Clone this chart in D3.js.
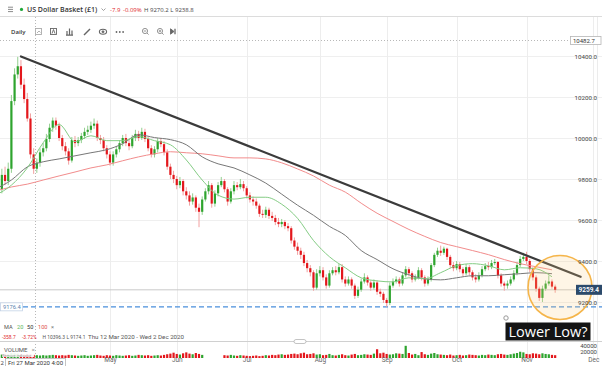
<!DOCTYPE html>
<html>
<head>
<meta charset="utf-8">
<script src="https://cdnjs.cloudflare.com/ajax/libs/d3/7.8.5/d3.min.js"></script>
<style>
body { margin: 0; background: #fff; }
svg { display: block; font-family: "Open Sans", Roboto, sans-serif; }
</style>
</head>
<body>
<div id="chart"></div>
<script>
// chart size
var width = 602, height = 366;

// daily candles, 12 Mar 2020 onwards (one value per session)
var opens = [9560,9630,9750,9820,9790,9850,10180,10310,10350,10260,
10190,10095,9920,9850,9880,9930,9950,9995,10050,10085,
10060,10000,9960,9935,9890,9990,9975,9990,10010,10030,
10040,10060,10070,10000,9990,9950,9920,9880,9920,9945,
9975,10000,9975,9960,10000,10020,10000,10030,9995,9950,
9920,9945,9985,9970,9930,9860,9820,9800,9770,9790,
9740,9720,9690,9710,9660,9640,9700,9740,9770,9680,
9730,9770,9790,9750,9690,9740,9770,9760,9775,9755,
9720,9700,9690,9670,9630,9625,9650,9620,9610,9590,
9580,9590,9570,9560,9500,9470,9450,9430,9390,9365,
9345,9270,9340,9355,9320,9280,9340,9355,9345,9370,
9310,9290,9310,9280,9230,9260,9300,9320,9295,9270,
9295,9250,9240,9210,9195,9280,9300,9310,9290,9330,
9360,9340,9310,9320,9355,9320,9290,9310,9380,9430,
9450,9440,9460,9420,9380,9365,9385,9360,9340,9370,
9345,9320,9310,9330,9360,9375,9370,9390,9395,9330,
9290,9280,9290,9310,9340,9380,9410,9420,9400,9360,
9320,9265,9220,9265,9290,9300,9275];

var highs = [9660,9780,9850,9860,9880,10210,10340,10396,10380,10290,
10220,10120,9950,9900,9950,9975,10020,10070,10100,10100,
10075,10015,9980,9950,10005,10010,10005,10025,10050,10060,
10080,10095,10085,10015,10005,9965,9935,9935,9960,9990,
10015,10020,9990,10015,10040,10035,10050,10045,10005,9965,
9960,10000,10000,9985,9945,9875,9840,9815,9810,9800,
9760,9740,9730,9720,9680,9715,9755,9790,9780,9745,
9785,9810,9800,9760,9755,9790,9785,9800,9790,9765,
9735,9715,9705,9680,9650,9665,9660,9640,9625,9610,
9605,9600,9585,9570,9515,9490,9465,9445,9405,9380,
9355,9360,9375,9370,9335,9355,9370,9375,9385,9385,
9325,9325,9320,9290,9275,9315,9340,9330,9305,9310,
9305,9265,9250,9220,9295,9315,9325,9320,9345,9375,
9370,9350,9335,9370,9365,9330,9325,9390,9440,9465,
9475,9470,9465,9430,9395,9400,9395,9370,9385,9380,
9355,9335,9345,9375,9390,9395,9405,9410,9400,9340,
9300,9305,9325,9355,9395,9425,9440,9445,9410,9370,
9330,9275,9280,9305,9330,9310,9285];

var lows = [9540,9615,9730,9770,9770,9830,10160,10290,10240,10170,
10080,9900,9825,9830,9860,9910,9935,9980,10030,10040,
9985,9940,9915,9870,9880,9955,9960,9975,9995,10015,
10025,10045,9985,9970,9935,9900,9865,9865,9905,9930,
9960,9960,9940,9950,9985,9985,9990,9980,9935,9905,
9905,9930,9955,9915,9845,9800,9780,9750,9755,9720,
9700,9670,9675,9640,9565,9625,9690,9725,9660,9665,
9715,9760,9735,9670,9680,9725,9745,9750,9740,9705,
9685,9670,9655,9615,9610,9610,9605,9595,9575,9565,
9565,9555,9545,9485,9455,9430,9410,9375,9345,9325,
9255,9260,9325,9305,9265,9270,9330,9330,9335,9295,
9275,9280,9265,9215,9220,9250,9290,9280,9255,9260,
9235,9225,9195,9176.4,9185,9270,9290,9275,9280,9320,
9325,9295,9300,9310,9305,9275,9280,9300,9370,9420,
9425,9430,9405,9365,9350,9355,9345,9325,9330,9330,
9305,9295,9300,9320,9350,9355,9360,9380,9315,9275,
9255,9265,9280,9300,9330,9370,9400,9385,9345,9305,
9250,9205,9200,9255,9280,9265,9245];

var closes = [9630,9750,9820,9790,9850,10180,10310,10350,10260,10190,
10095,9920,9850,9880,9930,9950,9995,10050,10085,10060,
10000,9960,9935,9890,9990,9975,9990,10010,10030,10040,
10060,10070,10000,9990,9950,9920,9880,9920,9945,9975,
10000,9975,9960,10000,10020,10000,10030,9995,9950,9920,
9945,9985,9970,9930,9860,9820,9800,9770,9790,9740,
9720,9690,9710,9660,9640,9700,9740,9770,9680,9730,
9770,9790,9750,9690,9740,9770,9760,9775,9755,9720,
9700,9690,9670,9630,9625,9650,9620,9610,9590,9580,
9590,9570,9560,9500,9470,9450,9430,9390,9365,9345,
9270,9340,9355,9320,9280,9340,9355,9345,9370,9310,
9290,9310,9280,9230,9260,9300,9320,9295,9270,9295,
9250,9240,9210,9195,9280,9300,9310,9290,9330,9360,
9340,9310,9320,9355,9320,9290,9310,9380,9430,9450,
9440,9460,9420,9380,9365,9385,9360,9340,9370,9345,
9320,9310,9330,9360,9375,9370,9390,9395,9330,9290,
9280,9290,9310,9340,9380,9410,9420,9400,9360,9320,
9265,9220,9265,9290,9300,9275,9259.4];

var volumes = [9000,12000,11000,13000,12000,16000,15000,14000,12000,11000,13000,
12000,10000,9000,8000,9000,8000,9000,10000,9000,8000,
9000,8000,10000,9000,8000,7000,8000,9000,7000,8000,
9000,10000,8000,7000,9000,8000,7000,9000,8000,7000,
8000,9000,7000,8000,10000,9000,8000,9000,7000,8000,
9000,8000,10000,12000,14000,17000,13000,11000,15000,18000,
14000,12000,16000,13000,10000,
0,0,0,0,0,0,
9000,8000,10000,8000,7000,9000,8000,7000,6000,
7000,8000,6000,7000,9000,8000,10000,9000,11000,12000,
10000,11000,13000,14000,12000,15000,17000,12000,13000,15000,
11000,12000,9000,10000,13000,9000,8000,10000,12000,9000,
8000,11000,13000,9000,10000,12000,11000,10000,14000,28000,
15000,17000,13000,11000,12000,15000,14000,13000,39000,16000,
11000,13000,9000,19000,12000,10000,14000,16000,12000,11000,
10000,9000,11000,8000,9000,10000,8000,9000,11000,10000,
9000,8000,10000,9000,11000,10000,9000,12000,13000,11000,
10000,12000,14000,16000,20000,18000,13000,12000,15000,14000,
12000,15000,13000,12000,10000,9000];

// moving averages, read every 5th session
var ma20 = [9721,9770,9854,9977,10066,9982,10011,9987,9987,10007,9987,9967,9893,9795,9721,9702,9711,9711,
9677,9608,9500,9421,9367,9318,9303,9298,9318,9313,9343,9377,9387,9377,9357,9367,9362,9323];
var ma50 = [9751,9795,9859,9884,9898,9913,9928,9943,9972,10016,10002,9992,9967,9908,9874,9854,9820,9780,
9726,9672,9623,9569,9525,9451,9407,9362,9333,9313,9308,9318,9328,9328,9333,9338,9343,9338];
var ma100 = [9741,9761,9775,9795,9815,9834,9854,9869,9889,9908,9923,9933,9928,9923,9913,9903,9903,9898,
9879,9849,9815,9770,9736,9682,9633,9593,9554,9520,9490,9470,9451,9431,9407,9387,9372,9357];

var priceTicks = [9200, 9400, 9600, 9800, 10000, 10200, 10400];
var volTicks = [20000, 40000];
var monthLabels = ["May", "Jun", "Jul", "Aug", "Sep", "Oct", "Nov", "Dec"];

// downtrend line and reference levels
var trendDates = ["2020-03-24", "2020-11-25"];
var trendPrices = [10398, 9323];
var lastPrice = 9259.4;
var supportLevel = 9176.4;
var crossPrice = 10482.7;

// sessions on the time axis (weekdays up to 2 Dec 2020)
var fmtDay = d3.utcFormat("%Y-%m-%d");
var parseDay = d3.utcParse("%Y-%m-%d");
var dates = d3.utcDay.range(new Date(Date.UTC(2020, 2, 12)), new Date(Date.UTC(2020, 11, 3)))
    .filter(function(d) { return d.getUTCDay() !== 0 && d.getUTCDay() !== 6; })
    .map(fmtDay);

var candles = closes.map(function(c, i) {
    return {date: dates[i], open: opens[i], high: highs[i], low: lows[i], close: c, volume: volumes[i]};
});

// scales
var x = d3.scalePoint().domain(dates).range([-4.5, 596.5]);
var y = d3.scaleLinear().domain([9200, 10400]).range([302, 56]);
var yv = d3.scaleLinear().domain([0, 40000]).range([358, 345.5]);

var up = "#2ea42e", down = "#e3171c";
var upWick = "#93cf8f", downWick = "#f2a0a0";

var svg = d3.select("#chart").append("svg")
    .attr("width", width)
    .attr("height", height);

// first trading day of each labelled month
var monthStarts = dates.filter(function(d, i) {
    return i > 0 && d.slice(5, 7) !== dates[i - 1].slice(5, 7) &&
        monthLabels.indexOf(d3.utcFormat("%b")(parseDay(d))) >= 0;
});

// grid
svg.append("g").selectAll("line")
    .data(priceTicks)
    .enter().append("line")
    .attr("x1", 0).attr("x2", width)
    .attr("y1", function(d) { return Math.round(y(d)) + 0.5; })
    .attr("y2", function(d) { return Math.round(y(d)) + 0.5; })
    .attr("stroke", "#efefef");

svg.append("g").selectAll("line")
    .data(monthStarts)
    .enter().append("line")
    .attr("x1", function(d) { return Math.round(x(d)) + 0.5; })
    .attr("x2", function(d) { return Math.round(x(d)) + 0.5; })
    .attr("y1", 17).attr("y2", 358)
    .attr("stroke", "#ededed");
svg.append("line").attr("x1", 597.5).attr("x2", 597.5).attr("y1", 17).attr("y2", 358).attr("stroke", "#ececec");

// header
var head = svg.append("g");
head.append("line").attr("x1", 0).attr("x2", width).attr("y1", 16.5).attr("y2", 16.5).attr("stroke", "#dcdcdc");
[7.2, 9.4, 11.6].forEach(function(v) {
    head.append("line").attr("x1", 8).attr("x2", 13).attr("y1", v).attr("y2", v).attr("stroke", "#8c8c8c");
});
head.append("circle").attr("cx", 21.5).attr("cy", 9.4).attr("r", 1.6).attr("fill", "#1fa83a");
head.append("text").attr("x", 27).attr("y", 12).attr("font-size", 7).attr("font-weight", 600)
    .attr("fill", "#333").text("US Dollar Basket (£1)");
head.append("path").attr("d", "M101.5,8.5 L103.5,10.5 L105.5,8.5").attr("fill", "none").attr("stroke", "#888").attr("stroke-width", 0.8);
head.append("text").attr("x", 110).attr("y", 11.6).attr("font-size", 6).attr("fill", "#e0262b").text("-7.9");
head.append("text").attr("x", 123).attr("y", 11.6).attr("font-size", 6).attr("fill", "#e0262b").text("-0.09%");
head.append("text").attr("x", 144).attr("y", 11.6).attr("font-size", 6).attr("fill", "#444").text("H 9270.2  L 9238.8");

// toolbar
var tb = svg.append("g").attr("fill", "none").attr("stroke", "#666").attr("stroke-width", 0.9);
svg.append("text").attr("x", 11).attr("y", 33.5).attr("font-size", 6).attr("font-weight", 600).attr("fill", "#333").text("Daily");
tb.append("rect").attr("x", 35.5).attr("y", 28.5).attr("width", 6).attr("height", 6).attr("stroke", "#aaa");
tb.append("path").attr("d", "M37,33 L39,31 L40.5,32.5").attr("stroke", "#aaa");
tb.append("rect").attr("x", 50.5).attr("y", 28.5).attr("width", 6).attr("height", 6);
tb.append("path").attr("d", "M52,33.5 L53.5,29.5 L55,33.5");
tb.append("path").attr("d", "M67,35 V31 M69.5,35 V28.5 M72,35 V30.5 M66,35.2 H73").attr("stroke-width", 1.2);
tb.append("path").attr("d", "M84,35 L90,29").attr("stroke-width", 1.5);
tb.append("ellipse").attr("cx", 103).attr("cy", 31.8).attr("rx", 3.6).attr("ry", 2.5).attr("stroke-width", 1.1);
tb.append("circle").attr("cx", 103).attr("cy", 31.8).attr("r", 1).attr("fill", "#666");
[116.5, 119.8, 123.1].forEach(function(v) {
    tb.append("circle").attr("cx", v).attr("cy", 32).attr("r", 0.9).attr("fill", "#666").attr("stroke", "none");
});
tb.append("circle").attr("cx", 145).attr("cy", 31).attr("r", 2.6).attr("stroke", "#888");
tb.append("path").attr("d", "M147,33 L148.6,34.6 M143.8,31 H146.2").attr("stroke", "#888");
tb.append("circle").attr("cx", 160).attr("cy", 31).attr("r", 2.6).attr("stroke", "#888");
tb.append("path").attr("d", "M162,33 L163.6,34.6 M158.8,31 H161.2 M160,29.8 V32.2").attr("stroke", "#888");
tb.append("path").attr("d", "M170.5,28.8 L174,31.5 L170.5,34.2 Z").attr("fill", "#666");
tb.append("path").attr("d", "M175,28.8 V34.2").attr("stroke-width", 1.3);

// crosshair
svg.append("line").attr("x1", 0).attr("x2", 570).attr("y1", 40.5).attr("y2", 40.5)
    .attr("stroke", "#b8b8b8").attr("stroke-dasharray", "1,2");
svg.append("line").attr("x1", 35.5).attr("x2", 35.5).attr("y1", 17).attr("y2", 358)
    .attr("stroke", "#b8b8b8").attr("stroke-dasharray", "1,2");

// last price line and support level
svg.append("line").attr("x1", 0).attr("x2", 576).attr("y1", y(lastPrice)).attr("y2", y(lastPrice))
    .attr("stroke", "#c9c9c9");
svg.append("line").attr("x1", 23).attr("x2", width).attr("y1", y(supportLevel)).attr("y2", y(supportLevel))
    .attr("stroke", "#4a8fdc").attr("stroke-width", 1.4).attr("stroke-dasharray", "5,3");

// candles
var cg = svg.append("g");
cg.selectAll(".wick")
    .data(candles)
    .enter().append("line")
    .attr("class", "wick")
    .attr("x1", function(d) { return x(d.date); })
    .attr("x2", function(d) { return x(d.date); })
    .attr("y1", function(d) { return y(d.high); })
    .attr("y2", function(d) { return y(d.low); })
    .attr("stroke", function(d) { return d.close >= d.open ? upWick : downWick; });
cg.selectAll(".body")
    .data(candles)
    .enter().append("rect")
    .attr("class", "body")
    .attr("x", function(d) { return x(d.date) - 1.1; })
    .attr("width", 2.2)
    .attr("y", function(d) { return y(Math.max(d.open, d.close)); })
    .attr("height", function(d) { return Math.max(1, Math.abs(y(d.open) - y(d.close))); })
    .attr("fill", function(d) { return d.close >= d.open ? up : down; });

// moving averages
var maLine = d3.line()
    .x(function(v, k) { return x(dates[k * 5]); })
    .y(function(v) { return y(v); })
    .curve(d3.curveMonotoneX);
[[ma100, "#f28c8c"], [ma50, "#777"], [ma20, "#84cc84"]].forEach(function(m) {
    svg.append("path").datum(m[0]).attr("d", maLine)
        .attr("fill", "none").attr("stroke", m[1]).attr("stroke-width", 1);
});

// trendline
svg.append("line")
    .attr("x1", x(trendDates[0])).attr("y1", y(trendPrices[0]))
    .attr("x2", x(trendDates[1])).attr("y2", y(trendPrices[1]))
    .attr("stroke", "#3b3b3b").attr("stroke-width", 2.2).attr("stroke-linecap", "round");

// highlight circle
svg.append("circle").attr("cx", 560).attr("cy", 287.5).attr("r", 32)
    .attr("fill", "rgba(250, 205, 130, 0.2)").attr("stroke", "#f5b54a").attr("stroke-width", 1.6);

// price axis
var py = svg.append("g")
    .attr("transform", "translate(597,0.5)")
    .call(d3.axisLeft(y).tickValues(priceTicks).tickSize(0).tickPadding(0).tickFormat(d3.format(".1f")));
py.select(".domain").remove();
py.selectAll("text").attr("font-size", 6.2).attr("fill", "#444").attr("font-family", "Roboto, sans-serif");

// label boxes on price axis
svg.append("rect").attr("x", 570.5).attr("y", 36.5).attr("width", 30.5).attr("height", 8).attr("fill", "#fff").attr("stroke", "#b5b5b5").attr("stroke-width", 0.8);
svg.append("text").attr("x", 573).attr("y", 42.8).attr("font-size", 6).attr("fill", "#333").attr("font-family", "Roboto, sans-serif").text(d3.format(".1f")(crossPrice));
svg.append("rect").attr("x", 576).attr("y", y(lastPrice) - 5).attr("width", 26).attr("height", 10).attr("fill", "#2c4a6b");
svg.append("text").attr("x", 578.5).attr("y", y(lastPrice) + 2.3).attr("font-size", 6.5).attr("font-weight", 600)
    .attr("fill", "#fff").attr("font-family", "Roboto, sans-serif").text(d3.format(".1f")(lastPrice));
svg.append("rect").attr("x", 0.5).attr("y", y(supportLevel) - 4).attr("width", 22).attr("height", 8).attr("fill", "#fff").attr("stroke", "#c3d2e6").attr("stroke-width", 0.8);
svg.append("text").attr("x", 3).attr("y", y(supportLevel) + 2.2).attr("font-size", 5.8).attr("fill", "#5a7fae")
    .attr("font-family", "Roboto, sans-serif").text(d3.format(".1f")(supportLevel));

// annotation
svg.append("circle").attr("cx", 506).attr("cy", 318).attr("r", 2.2).attr("fill", "#fff").attr("stroke", "#999");
svg.append("rect").attr("x", 505.5).attr("y", 322.5).attr("width", 85).attr("height", 18).attr("fill", "#141414");
svg.append("text").attr("x", 548).attr("y", 337).attr("text-anchor", "middle").attr("font-size", 14.5)
    .attr("fill", "#fff").text("Lower Low?");

// indicator legend
var leg = svg.append("g").attr("font-size", 5.6).attr("font-family", "Roboto, sans-serif");
leg.append("text").attr("x", 4).attr("y", 329).attr("fill", "#555").text("MA");
leg.append("text").attr("x", 17).attr("y", 329).attr("fill", "#5cb85c").text("20");
leg.append("text").attr("x", 27).attr("y", 329).attr("fill", "#333").text("50");
leg.append("text").attr("x", 38).attr("y", 329).attr("fill", "#e05050").text("100");
leg.append("text").attr("x", 51).attr("y", 329).attr("fill", "#777").text("×");
[["-358.7", 2, "#e0262b"], ["-3.72%", 22, "#e0262b"], ["H 10396.3", 42.5, "#555"],
 ["L 9174.1", 66.5, "#555"]].forEach(function(t) {
    leg.append("text").attr("x", t[1]).attr("y", 338.8).attr("font-size", 4.9).attr("fill", t[2]).text(t[0]);
});
leg.append("text").attr("x", 88).attr("y", 338.8).attr("fill", "#555")
    .attr("textLength", 96).attr("lengthAdjust", "spacingAndGlyphs").text("Thu 12 Mar 2020 - Wed 2 Dec 2020");

// volume pane
svg.append("line").attr("x1", 0).attr("x2", width).attr("y1", 341.5).attr("y2", 341.5).attr("stroke", "#d0d0d0");
svg.append("rect").attr("x", 294).attr("y", 339.5).attr("width", 12).attr("height", 4).attr("rx", 2)
    .attr("fill", "#fff").attr("stroke", "#aaa").attr("stroke-width", 0.7);
svg.append("g").selectAll(".vol")
    .data(candles)
    .enter().append("rect")
    .attr("class", "vol")
    .attr("x", function(d) { return x(d.date) - 1.1; })
    .attr("width", 2.2)
    .attr("y", function(d) { return yv(d.volume); })
    .attr("height", function(d) { return yv(0) - yv(d.volume); })
    .attr("fill", function(d) { return d.close >= d.open ? up : down; });

var vy = svg.append("g")
    .attr("transform", "translate(597,0)")
    .call(d3.axisLeft(yv).tickValues(volTicks).tickSize(0).tickPadding(0).tickFormat(d3.format("d")));
vy.select(".domain").remove();
vy.selectAll("text").attr("font-size", 6).attr("fill", "#444").attr("font-family", "Roboto, sans-serif");

svg.append("rect").attr("x", 2).attr("y", 344).attr("width", 32).attr("height", 13).attr("fill", "#fff").attr("opacity", 0.9);
svg.append("text").attr("x", 4).attr("y", 352).attr("font-size", 6).attr("fill", "#555").attr("font-family", "Roboto, sans-serif").text("VOLUME");
svg.append("text").attr("x", 31.5).attr("y", 352).attr("font-size", 6).attr("fill", "#777").text("×");
svg.append("text").attr("x", 2).attr("y", 356.5).attr("font-size", 3.6).attr("fill", "#888").text("Remove indicator");

// time axis
var tx = svg.append("g")
    .attr("transform", "translate(0,357.5)")
    .call(d3.axisBottom(x).tickValues(monthStarts).tickSize(0).tickPadding(0)
        .tickFormat(function(d) { return d3.utcFormat("%b")(parseDay(d)); }));
tx.select(".domain").remove();
tx.selectAll("text").attr("font-size", 6.5).attr("fill", "#666").attr("font-family", "Roboto, sans-serif");

// crosshair date label
svg.append("text").attr("x", 0.5).attr("y", 364.5).attr("font-size", 6).attr("fill", "#444").text("2");
svg.append("rect").attr("x", 5.5).attr("y", 358.5).attr("width", 60).attr("height", 8).attr("fill", "#fff").attr("stroke", "#b5b5b5").attr("stroke-width", 0.8);
svg.append("text").attr("x", 8).attr("y", 364.6).attr("font-size", 6).attr("fill", "#333")
    .attr("font-family", "Roboto, sans-serif").text("Fri 27 Mar 2020 4:00");
</script>
</body>
</html>
